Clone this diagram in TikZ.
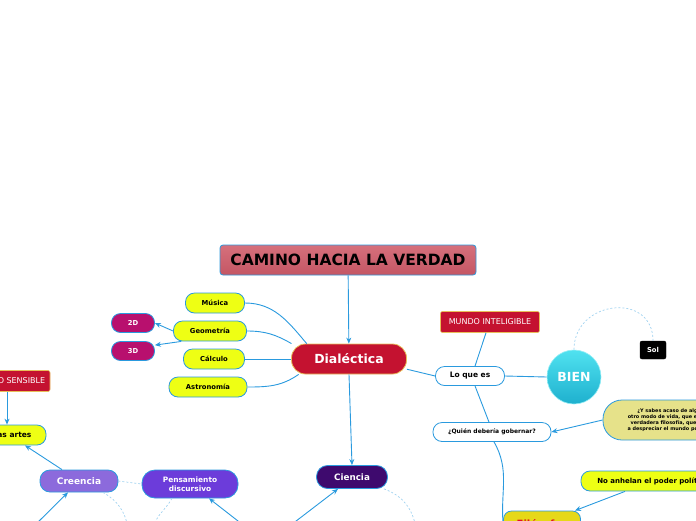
\documentclass[tikz,border=0pt]{standalone}
\usepackage{fontspec}
\setmainfont{DejaVu Sans}
\usepackage{xcolor}
\usetikzlibrary{shapes,arrows.meta,positioning,calc}

\definecolor{linkblue}{RGB}{42,154,222}
\definecolor{dashblue}{RGB}{160,210,240}
\definecolor{titletop}{RGB}{214,112,124}
\definecolor{titlebot}{RGB}{196,86,100}
\definecolor{crimson}{RGB}{196,18,48}
\definecolor{goldedge}{RGB}{232,190,90}
\definecolor{lime}{RGB}{238,255,20}
\definecolor{magen}{RGB}{184,16,110}
\definecolor{lavender}{RGB}{140,106,220}
\definecolor{violet}{RGB}{108,60,218}
\definecolor{darkpurple}{RGB}{62,10,110}
\definecolor{cyantop}{RGB}{80,226,240}
\definecolor{cyanbot}{RGB}{30,176,206}
\definecolor{khaki}{RGB}{230,226,138}
\definecolor{gold}{RGB}{230,216,24}
\definecolor{fred}{RGB}{226,20,30}

\begin{document}
\begin{tikzpicture}[x=1pt, y=-1pt,
    pill/.style={draw=linkblue, line width=0.8pt, rounded corners=9pt, minimum height=20pt, inner sep=0pt, align=center, font=\bfseries\fontsize{6.8}{7.5}\selectfont},
    tag/.style={draw=goldedge, line width=0.6pt, rounded corners=2pt, fill=crimson, text=white, inner sep=0pt, font=\fontsize{8}{9}\selectfont},
    link/.style={draw=linkblue, line width=0.9pt},
    arr/.style={link, -{Stealth[length=6pt, width=5pt]}},
    dashlink/.style={draw=dashblue, line width=0.7pt, dash pattern=on 2pt off 2pt}
  ]
    \useasboundingbox (0,0) rectangle (696,520);
    \clip (0,0) rectangle (696,520);

    % centre
    \node[draw=linkblue, line width=0.8pt, rounded corners=3pt, top color=titletop, bottom color=titlebot, minimum width=256pt, minimum height=30pt, font=\bfseries\fontsize{15.5}{17}\selectfont] (title) at (348,260) {CAMINO HACIA LA VERDAD};
    \node[pill, draw=goldedge, fill=crimson, text=white, rounded corners=14pt, minimum width=115pt, minimum height=30pt, font=\bfseries\fontsize{12.5}{14}\selectfont] (dial) at (349,359) {Dialéctica};

    % left branch
    \node[pill, fill=lime, minimum width=59pt]   (mus)   at (215,303) {Música};
    \node[pill, fill=lime, minimum width=73pt]   (geo)   at (210,331) {Geometría};
    \node[pill, fill=lime, minimum width=61pt]   (calc)  at (214,359) {Cálculo};
    \node[pill, fill=lime, minimum width=78pt]   (astro) at (208,387) {Astronomía};
    \node[pill, fill=magen, text=white, minimum width=43pt, minimum height=19pt] (d2) at (133,323) {2D};
    \node[pill, fill=magen, text=white, minimum width=43pt, minimum height=19pt] (d3) at (133,351) {3D};

    \node[tag, minimum width=82pt, minimum height=21pt] (msens) at (9,381) {MUNDO SENSIBLE};
    \node[pill, fill=lime, minimum width=68pt, font=\bfseries\fontsize{7.5}{8.5}\selectfont] (artes) at (12,435) {Las artes};
    \node[pill, fill=lavender, text=white, rounded corners=10pt, minimum width=78pt, minimum height=22pt, font=\bfseries\fontsize{9}{10}\selectfont] (cree) at (79,481) {Creencia};
    \node[pill, fill=violet, text=white, rounded corners=13pt, minimum width=96pt, minimum height=28pt, font=\bfseries\fontsize{7.4}{9.5}\selectfont] (pens) at (190,484) {Pensamiento\\discursivo};
    \node[pill, fill=darkpurple, text=white, rounded corners=11pt, minimum width=71pt, minimum height=23pt, font=\bfseries\fontsize{8.8}{10}\selectfont] (cien) at (352,477) {Ciencia};

    % right branch
    \node[tag, minimum width=99pt, minimum height=21pt] (mint) at (490,322) {MUNDO INTELIGIBLE};
    \node[pill, fill=white, minimum width=69pt, minimum height=19pt, font=\bfseries\fontsize{7.5}{8.5}\selectfont] (loque) at (470,376) {Lo que es};
    \node[circle, draw=cyantop!60!white, line width=0.6pt, top color=cyantop, bottom color=cyanbot, minimum size=54pt, inner sep=0pt, text=white, font=\bfseries\fontsize{12.5}{14}\selectfont] (bien) at (574,377) {BIEN};
    \node[draw=black, fill=black, rounded corners=2pt, minimum width=26pt, minimum height=18pt, inner sep=0pt, text=white, font=\bfseries\fontsize{6.8}{7.5}\selectfont] (sol) at (653,350) {Sol};
    \node[pill, fill=white, minimum width=118pt, minimum height=19pt, font=\bfseries\fontsize{6}{7}\selectfont] (quien) at (492,432) {¿Quién debería gobernar?};
    \node[pill, fill=khaki, rounded corners=19pt, minimum width=136pt, minimum height=40pt, font=\bfseries\fontsize{4.9}{6.2}\selectfont] (cita) at (671,420) {¿Y sabes acaso de algún\\otro modo de vida, que el de la\\verdadera filosofía, que lleve\\a despreciar el mundo político?};
    \node[pill, fill=lime, minimum width=144pt, font=\bfseries\fontsize{7}{8}\selectfont] (noanh) at (653,481) {No anhelan el poder político};
    \node[pill, fill=gold, rounded corners=8pt, minimum width=77pt, minimum height=26pt, text=fred, font=\bfseries\fontsize{10}{11}\selectfont] (filo) at (542,524) {Filósofos};

    % free ends below the page
    \coordinate (creein) at (30,530);
    \coordinate (pensin) at (247,528);
    \coordinate (cienin) at (287,528);
    \coordinate (creeout) at (128,528);
    \coordinate (pensout) at (153,528);
    \coordinate (cienout) at (416,528);

    \draw[arr] (title) -- (dial);
    \draw[link] (dial.160) to[out=130, in=0] (mus.east);
    \draw[link] (dial.165) to[out=150, in=0] (geo.east);
    \draw[link] (dial.west) -- (calc.east);
    \draw[link] (dial.197) to[out=215, in=0] (astro.east);
    \draw[arr] (geo.west) -- (d2.east);
    \draw[arr] (geo.200) -- (d3.15);
    \draw[arr] ([xshift=-2pt]msens.south) -- ([xshift=-5pt]artes.north);
    \draw[arr] ([xshift=-17pt]cree.north) -- ([xshift=13pt]artes.south);
    \draw[arr] (creein) -- ([xshift=-11pt]cree.south);
    \draw[dashlink] (cree.east) -- (pens.west);
    \draw[dashlink] ([xshift=24pt]cree.south) to[out=-30, in=100] (creeout);
    \draw[dashlink] ([xshift=-18pt]pens.south) to[out=-120, in=75] (pensout);
    \draw[arr] (pensin) -- ([xshift=19pt]pens.south);
    \draw[arr] (dial.south) -- (cien.north);
    \draw[arr] (cienin) -- ([xshift=-14pt]cien.south);
    \draw[dashlink] ([xshift=32pt]cien.south) to[out=-20, in=100] (cienout);

    \draw[link] (dial.-10) -- (loque.west);
    \draw[link] ([xshift=-4pt]mint.south) -- ([xshift=5pt]loque.north);
    \draw[link] (loque.east) -- (bien.west);
    \draw[dashlink] (bien.north) to[out=90, in=90, looseness=1.6] (sol.north);
    \draw[link] ([xshift=5pt]loque.south) -- ([xshift=-3pt]quien.north);
    \draw[arr] (cita.west) -- (quien.east);
    \draw[link] ([xshift=2pt]quien.south) to[out=-60, in=95] (filo.west);
    \draw[arr] ([xshift=-28pt]noanh.south) -- ([xshift=-6pt]filo.north east);
  \end{tikzpicture}
\end{document}
